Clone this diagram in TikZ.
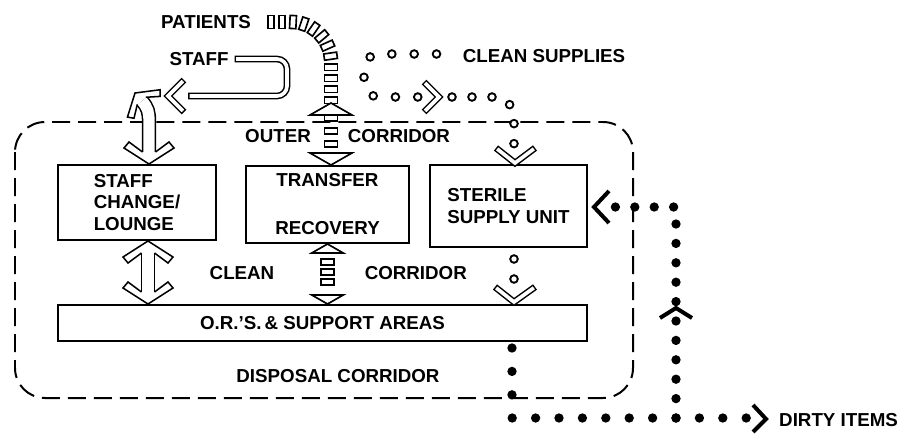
\documentclass[tikz,border=0pt]{standalone}
\usepackage{fontspec}
\setmainfont{Liberation Sans}
\usetikzlibrary{calc, positioning, decorations.markings}
\tikzset{
  lbl/.style={font=\bfseries\fontsize{16}{18}\selectfont, inner sep=0pt},
  roombox/.style={draw, line width=1.7pt, inner sep=0pt,
    font=\bfseries\fontsize{16}{18}\selectfont},
  corridor/.style={line width=1.7pt, dash pattern=on 5.4mm off 2.4mm,
    rounded corners=9mm},
  bigshaft/.style={line width=1.3pt, double distance=3.4mm,
    shorten <=3.3mm, shorten >=3.3mm},
  hollowline/.style={line width=2mm, line join=miter,
    postaction={draw=white, line width=1.1mm, shorten <=0.45mm, shorten >=0.45mm}},
  solidchev/.style={line width=1.2mm, line join=miter},
  ringchain/.style={line width=2.9mm, line cap=round, dash pattern=on 0pt off #1,
    postaction={draw=white, line width=1.6mm, line cap=round, dash pattern=on 0pt off #1}},
  dotchain/.style={line width=2.8mm, line cap=round, dash pattern=on 0pt off #1},
  rectchain/.style={decoration={markings, mark=between positions 0 and 1 step #1 with
    {\draw[sharp corners, fill=white, line width=1.4pt] (-0.95mm,-1.95mm) rectangle (0.95mm,1.95mm);}},
    postaction=decorate},
  bighead/.pic={
    \fill[white] (0,0) -- (25,16) -- (20,22) -- (6.5,12) -- (-6.5,12) -- (-20,22) -- (-25,16) -- cycle;
    \draw[line width=1.3pt, line join=miter] (6.5,12) -- (20,22) -- (25,16) -- (0,0)
      -- (-25,16) -- (-20,22) -- (-6.5,12);},
  trihead/.pic={
    \draw[fill=white, line width=1.4pt, line join=miter] (0,0) -- (21,12) -- (-21,12) -- cycle;}
}
\begin{document}
\begin{tikzpicture}[x=0.3mm, y=-0.3mm]
\useasboundingbox (0,0) rectangle (906,434);
% corridors
\draw[corridor] (15,122) rectangle (633,398);

% rooms
\node (staffbox) [roombox, align=left, minimum width=47.4mm, minimum height=22.5mm]
  at (137,202.5) {STAFF\\CHANGE/\\LOUNGE};
\node (transbox) [roombox, align=center, minimum width=48.9mm, minimum height=23.1mm]
  at (327.5,204.5) {TRANSFER\\[23pt]RECOVERY};
\node (sterbox)  [roombox, align=left, minimum width=47.1mm, minimum height=24.6mm]
  at (508.5,206) {STERILE\\SUPPLY UNIT};
\node (orsbox)   [roombox, minimum width=158.7mm, minimum height=10.8mm]
  at (322.5,323) {O.R.'S.\,\& SUPPORT AREAS};

% labels
\node (patlbl)     [lbl] at (206,22) {PATIENTS};
\node (stafflbl)   [lbl] at (199,59) {STAFF};
\node (cleanlbl)   [lbl] at (544,56) {CLEAN SUPPLIES};
\node (outerlbl)   [lbl] at (278,136) {OUTER};
\node (outercorr)  [lbl, right=11mm of outerlbl] {CORRIDOR};
\node (cleancorr)  [lbl] at (242,273) {CLEAN};
\node (cleancorr2) [lbl, right=27mm of cleancorr] {CORRIDOR};
\node (displbl)    [lbl] at (338,376) {DISPOSAL CORRIDOR};
\node (dirtylbl)   [lbl, anchor=west] at (779,420) {DIRTY ITEMS};

% patients
\coordinate (patA) at (271,22);
\coordinate (patB) at (331,101);
\path[rectchain=3.3mm, rounded corners=12mm] (patA) -- (patA -| patB) -- (patB);
\pic at (331,103) {trihead};
\path[rectchain=3.9mm] (331,118) -- (331,146);
\pic[rotate=180] at (transbox.north -| patB) {trihead};

\pic[scale=0.75] at (transbox.south) {trihead};
\path[rectchain=3mm] ($(transbox.south)+(0,18)$) -- ($(transbox.south)+(0,48)$);
\pic[scale=0.75, rotate=180] at (orsbox.north -| transbox.south) {trihead};

% staff
\coordinate (sa) at ($(staffbox.south)+(11,0)$);
\draw[bigshaft] (sa) -- (sa |- orsbox.north);
\pic at (sa) {bighead};
\pic[rotate=180] at (sa |- orsbox.north) {bighead};

\coordinate (sb) at ($(staffbox.north)+(12,0)$);
\coordinate (sc) at (135,93);
\draw[bigshaft, shorten >=0pt] (sb) -- ++(0,-42) .. controls ++(0,-10) and (148,108) .. (142,101);
\pic[rotate=180] at (sb) {bighead};
\pic[rotate=40, scale=0.85] at (sc) {bighead};

\coordinate (stA) at ($(stafflbl.east)+(6,0)$);
\coordinate (stB) at (188,96);
\draw[hollowline, rounded corners=3mm] (stA) -- (287,59) -- (287,96) -- (stB);
\draw[hollowline] (184,80) -- (168,96) -- (184,112);

% clean supplies
\coordinate (cs0) at ($(cleanlbl.west)+(-26,-2)$);
\draw[ringchain=6.7mm, rounded corners=4.5mm] (cs0) -- (364,54) -- (364,97) -- (420,97);
\draw[hollowline] (424,82) -- (439,97) -- (424,112);
\coordinate (cs1) at (452,97);
\draw[ringchain=6mm, rounded corners=6mm] (cs1) -- (514,97) -- (514,145);
\draw[hollowline] (496,148) -- (515,163) -- (535,148);
\coordinate (cs2) at ($(sterbox.south)+(5.5,11)$);
\draw[ringchain=6mm] (cs2) -- ++(0,20.5);
\draw[hollowline] (495,287) -- (514,302) -- (535,287);

% dirty items
\coordinate (dA) at (512,348);
\coordinate (dB) at (747,418);
\draw[dotchain=7.02mm] (dA) -- (dA |- dB) -- (dB);
\draw[solidchev] (753,405) -- (766,419) -- (753,432);
\coordinate (dC) at (676,418);
\coordinate (dD) at (614,207);
\draw[dotchain=5.82mm] (dC) -- (dC |- dD) -- (dD);
\draw[solidchev] (660,318) -- (676,308) -- (692,318);
\draw[solidchev] (609,191) -- (594,207) -- (609,223);
\end{tikzpicture}
\end{document}
